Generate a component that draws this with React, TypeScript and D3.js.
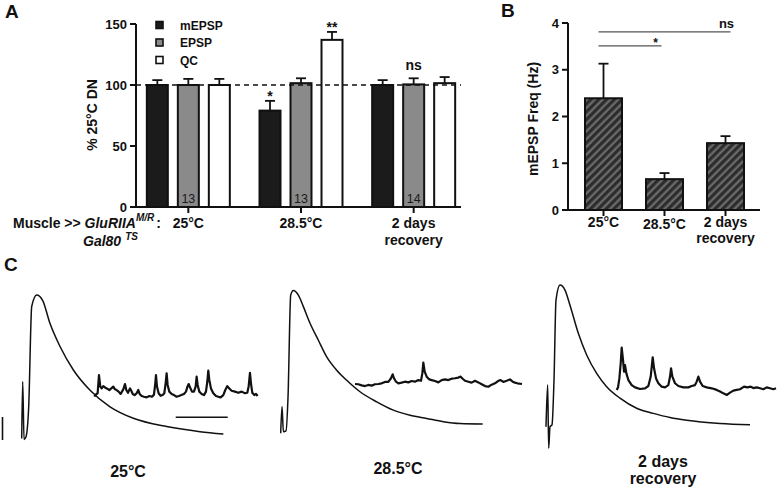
import React from "react";
import * as d3 from "d3";

// ---------- Panel A data ----------
const groups = ["25°C", "28.5°C", "2 days recovery"];
const groupLabelLines = [["25°C"], ["28.5°C"], ["2 days", "recovery"]];
const seriesNames = ["mEPSP", "EPSP", "QC"];
const mEPSPValues = [100, 79, 100];
const mEPSPErrors = [4, 8, 4];
const EPSPValues = [100, 101.5, 100.5];
const EPSPErrors = [5, 4, 5];
const QCValues = [100, 137, 101.5];
const QCErrors = [5, 6.5, 5];
const nLabels = ["13", "13", "14"];
const sigA = [
  { group: "28.5°C", series: "mEPSP", label: "*" },
  { group: "28.5°C", series: "QC", label: "**" },
  { group: "2 days recovery", series: "EPSP", label: "ns" },
];
const yTicksA = [0, 50, 100, 150];

// ---------- Panel B data ----------
const freqValues = [2.39, 0.66, 1.43];
const freqErrors = [0.74, 0.13, 0.15];
const yTicksB = [0, 1, 2, 3, 4];
const sigB = [
  { from: "25°C", to: "2 days recovery", y: 3.81, label: "ns" },
  { from: "25°C", to: "28.5°C", y: 3.51, label: "*" },
];

// ---------- Panel C data: [time (ms), voltage (mV)] ----------
const epsp25 = [
  [0, -0.4], [3, 12.0], [7, -0.6], [13, 0], [21, 6.5], [30, 28.3], [45, 30.8], [63, 29.6],
  [85, 24.6], [115, 19.6], [155, 14.5], [205, 10.1], [265, 6.5], [335, 4.0], [435, 2.2],
  [535, 1.1], [605, 0.6],
];
const epsp285 = [
  [0, -0.1], [4, 5.7], [8, 0.2], [16, 0.4], [22, 7.8], [30, 29.9], [38, 30.9], [53, 29.9],
  [68, 27.4], [88, 23.8], [113, 20.1], [138, 16.5], [168, 13.6], [198, 11.4], [238, 8.9],
  [288, 6.7], [338, 4.9], [388, 3.8], [438, 3.1], [488, 2.4], [538, 2.0], [606, 1.9],
];
const epspRec = [
  [0, 0], [5, 9.1], [8, -4.7], [12, 0], [18, 0.4], [24, 10.1], [30, 27.5], [42, 30.8],
  [57, 29.7], [72, 26.4], [97, 20.3], [122, 15.6], [152, 11.6], [182, 8.7], [222, 6.2],
  [272, 4.0], [322, 2.9], [372, 2.0], [422, 1.4], [522, 0.7], [612, 0.4],
];
const mini25 = [
  [0, -0.03], [5, 0.07], [10, 0.12], [14, 0.91], [18, 0.41], [22, 0.33], [27, 0.43], [33, 0.36],
  [39, 0.32], [45, 0.26], [51, 0.33], [57, 0.41], [62, 0.29], [67, 0.26], [73, 0.19], [79, 0.09],
  [83, 0.19], [87, 0.29], [92, 0.52], [96, 0.26], [101, 0.14], [107, 0.33], [111, 0.23], [115, 0.09],
  [121, 0.04], [127, 0.12], [132, 0.26], [136, 0.09], [142, 0], [149, -0.03], [157, -0.06], [165, 0],
  [173, -0.03], [179, 0.06], [183, 0.55], [185, 0.91], [188, 0.41], [193, 0.12], [199, 0.01],
  [205, 0.04], [210, 0.12], [214, 0.55], [217, 0.99], [220, 0.48], [225, 0.19], [232, 0.09],
  [239, 0.04], [247, -0.03], [254, 0], [261, 0.04], [269, 0.09], [275, 0.19], [280, 0.43],
  [283, 0.52], [287, 0.38], [293, 0.19], [299, 0.19], [304, 0.41], [307, 0.84], [310, 0.48],
  [315, 0.19], [322, 0.09], [329, 0.04], [335, 0.19], [339, 0.62], [342, 1.1], [345, 0.7],
  [350, 0.33], [357, 0.12], [365, 0], [372, -0.03], [379, -0.06], [387, 0.04], [393, 0.26],
  [399, 0.43], [405, 0.33], [412, 0.23], [422, 0.19], [432, 0.14], [442, 0.19], [452, 0.12],
  [459, 0.14], [463, 0.41], [467, 1.01], [470, 0.55], [474, 0.14], [480, 0.04], [485, 0.09], [490, 0],
];
const mini285 = [
  [0, 0], [10, -0.01], [20, -0.06], [30, -0.09], [40, -0.04], [50, -0.07], [60, -0.01], [70, 0],
  [80, 0.03], [90, 0.09], [100, 0.09], [108, 0.25], [113, 0.42], [117, 0.25], [123, 0.1], [130, 0.03],
  [140, 0.06], [150, 0.1], [160, 0.07], [170, 0.13], [180, 0.1], [190, 0.17], [198, 0.14], [202, 0.46],
  [205, 0.93], [209, 0.54], [215, 0.32], [223, 0.2], [230, 0.17], [240, 0.13], [250, 0.07], [260, 0.17],
  [270, 0.2], [280, 0.17], [290, 0.23], [300, 0.25], [310, 0.28], [317, 0.32], [323, 0.23], [330, 0.14],
  [340, 0.1], [350, 0.06], [360, 0.14], [370, 0.07], [380, -0.01], [390, -0.09], [400, -0.12],
  [410, -0.03], [420, 0.03], [430, 0.14], [437, 0.17], [445, 0.09], [455, 0.14], [465, 0.2],
  [473, 0.1], [480, 0.06], [487, 0.03], [501, 0],
];
const miniRec = [
  [0, -0.07], [4, 0.04], [8, 0.43], [12, 1.09], [15, 1.77], [19, 1.23], [22, 0.72], [25, 1.01],
  [29, 0.65], [35, 0.36], [45, 0.14], [55, 0.04], [70, -0.03], [85, 0], [95, 0.1], [102, 0.51],
  [108, 1.35], [112, 0.87], [118, 0.43], [125, 0.22], [135, 0.07], [145, 0.04], [155, 0.14],
  [160, 0.51], [163, 0.87], [167, 0.51], [175, 0.22], [185, 0.1], [200, 0.04], [215, 0.04],
  [225, 0.1], [235, 0.14], [240, 0.29], [245, 0.51], [250, 0.29], [258, 0.1], [270, 0.04], [285, 0],
  [300, -0.07], [310, -0.14], [320, -0.22], [330, -0.29], [340, -0.19], [350, -0.1], [360, -0.07],
  [370, -0.04], [382, 0.07], [392, 0.04], [402, 0.07], [410, 0.01], [420, 0.04], [430, 0], [440, -0.04],
  [450, 0.04], [460, 0], [470, -0.04], [478, 0],
];
const traceLabels = [["25°C"], ["28.5°C"], ["2 days", "recovery"]];
const scaleBarMs = 156;
const scaleBarMv = 1;

const FONT = "'Liberation Sans', Arial, Helvetica, sans-serif";
const INK = "#111";

export default function App() {
  // ---- Panel A scales
  const yA = d3.scaleLinear().domain([0, 150]).range([207, 24]);
  const xA = d3.scaleBand<string>().domain(groups).range([132, 470]);
  const xInner = d3.scalePoint<string>().domain(seriesNames).range([-46.5, 46.5]).padding(0.5);
  const barW = 21;
  const valuesBySeries: Record<string, number[]> = { mEPSP: mEPSPValues, EPSP: EPSPValues, QC: QCValues };
  const errorsBySeries: Record<string, number[]> = { mEPSP: mEPSPErrors, EPSP: EPSPErrors, QC: QCErrors };
  const fillBySeries: Record<string, string> = { mEPSP: "#1b1b1b", EPSP: "#8a8a8a", QC: "#ffffff" };
  const cx = (g: string, s: string) => (xA(g) as number) + xA.bandwidth() / 2 + (xInner(s) as number);

  // ---- Panel B scales
  const yB = d3.scaleLinear().domain([0, 4]).range([210, 23]);
  const xB = d3.scaleBand<string>().domain(groups).range([573, 756]);
  const barWB = 37;
  const cxB = (g: string) => (xB(g) as number) + xB.bandwidth() / 2;

  // ---- Panel C layouts
  const traces = [
    { epsp: epsp25, mini: mini25, x0: 21.7, y0: 436.7, mx0: 94.3, my0: 396, lx: 128, ly: 477 },
    { epsp: epsp285, mini: mini285, x0: 280.7, y0: 432.7, mx0: 355, my0: 384, lx: 398, ly: 474 },
    { epsp: epspRec, mini: miniRec, x0: 546, y0: 426.7, mx0: 616.7, my0: 388.3, lx: 663, ly: 467 },
  ];

  return (
    <div style={{ position: "absolute", left: 0, top: 0 }}>
      <svg width={777} height={491} style={{ display: "block", background: "#fff" }} fontFamily={FONT}>
        <defs>
          <pattern id="hatch" patternUnits="userSpaceOnUse" width={5.5} height={5.5} patternTransform="rotate(45)">
            <rect width={5.5} height={5.5} fill="#2c2c2c" />
            <line x1={1.5} y1={0} x2={1.5} y2={5.5} stroke="#6e6e6e" strokeWidth={2.2} />
          </pattern>
        </defs>

        {/* Panel letters */}
        <text x={5} y={18} fontSize={19} fontWeight="bold" fill={INK}>A</text>
        <text x={501} y={17} fontSize={19} fontWeight="bold" fill={INK}>B</text>
        <text x={4} y={271} fontSize={19} fontWeight="bold" fill={INK}>C</text>

        {/* ===== Panel A ===== */}
        <g>
          {/* bars */}
          {groups.map((g, gi) =>
            seriesNames.map((s) => {
              const v = valuesBySeries[s][gi];
              const e = errorsBySeries[s][gi];
              const c = cx(g, s);
              return (
                <g key={g + s}>
                  <line x1={c} x2={c} y1={yA(v)} y2={yA(v + e)} stroke={INK} strokeWidth={1.8} />
                  <line x1={c - 5} x2={c + 5} y1={yA(v + e)} y2={yA(v + e)} stroke={INK} strokeWidth={1.8} />
                  <rect x={c - barW / 2} y={yA(v)} width={barW} height={yA(0) - yA(v)}
                    fill={fillBySeries[s]} stroke={INK} strokeWidth={2} />
                </g>
              );
            })
          )}
          {/* n labels */}
          {groups.map((g, gi) => (
            <text key={"n" + g} x={cx(g, "EPSP")} y={203} fontSize={12.5} textAnchor="middle" fill="#1a1a1a">{nLabels[gi]}</text>
          ))}
          {/* dashed 100% line */}
          <line x1={136} x2={461} y1={yA(100)} y2={yA(100)} stroke={INK} strokeWidth={1.5} strokeDasharray="5,4" />
          {/* significance */}
          {sigA.map((a) => {
            const gi = groups.indexOf(a.group);
            const v = valuesBySeries[a.series][gi] + errorsBySeries[a.series][gi];
            return (
              <text key={a.group + a.series} x={cx(a.group, a.series)} y={yA(v) - (a.label === "ns" ? 8 : 0)}
                fontSize={14} fontWeight="bold" textAnchor="middle" fill={INK}>{a.label}</text>
            );
          })}
          {/* axes */}
          <line x1={136} x2={136} y1={yA(0)} y2={yA(150)} stroke={INK} strokeWidth={2} />
          <line x1={135} x2={461} y1={yA(0)} y2={yA(0)} stroke={INK} strokeWidth={2} />
          {yTicksA.map((t) => (
            <g key={"ta" + t}>
              <line x1={130} x2={136} y1={yA(t)} y2={yA(t)} stroke={INK} strokeWidth={2} />
              <text x={127} y={yA(t) + 4.5} fontSize={13} fontWeight="bold" textAnchor="end" fill={INK}>{t}</text>
            </g>
          ))}
          {groups.map((g, gi) => {
            const c = (xA(g) as number) + xA.bandwidth() / 2;
            return (
              <g key={"xa" + g}>
                <line x1={c} x2={c} y1={yA(0)} y2={yA(0) + 6} stroke={INK} strokeWidth={2} />
                {groupLabelLines[gi].map((ln, li) => (
                  <text key={ln} x={c} y={228 + li * 17} fontSize={14} fontWeight="bold" textAnchor="middle" fill={INK}>{ln}</text>
                ))}
              </g>
            );
          })}
          <text transform="translate(97,115) rotate(-90)" fontSize={14} fontWeight="bold" textAnchor="middle" fill={INK}>% 25°C DN</text>
          {/* genotype label */}
          <text x={13} y={228} fontSize={14} fontWeight="bold" fill={INK}>
            Muscle &gt;&gt; <tspan fontStyle="italic">GluRIIA</tspan>
            <tspan fontStyle="italic" fontSize={10} dy={-7}>M/R</tspan>
            <tspan dx={2} dy={7}>:</tspan>
          </text>
          <text x={83} y={246} fontSize={14} fontWeight="bold" fontStyle="italic" fill={INK}>
            Gal80<tspan fontSize={10} dx={4} dy={-6}>TS</tspan>
          </text>
          {/* legend */}
          {seriesNames.map((s, i) => (
            <g key={"lg" + s}>
              <rect x={156} y={21.5 + i * 17.5} width={7} height={7} fill={fillBySeries[s]} stroke={INK} strokeWidth={1.6} />
              <text x={180} y={29.5 + i * 17.5} fontSize={12} fontWeight="bold" fill={INK}>{s}</text>
            </g>
          ))}
        </g>

        {/* ===== Panel B ===== */}
        <g>
          {groups.map((g, gi) => {
            const c = cxB(g);
            const v = freqValues[gi];
            const e = freqErrors[gi];
            return (
              <g key={"b" + g}>
                <line x1={c} x2={c} y1={yB(v)} y2={yB(v + e)} stroke={INK} strokeWidth={1.8} />
                <line x1={c - 5} x2={c + 5} y1={yB(v + e)} y2={yB(v + e)} stroke={INK} strokeWidth={1.8} />
                <rect x={c - barWB / 2} y={yB(v)} width={barWB} height={yB(0) - yB(v)} fill="url(#hatch)" stroke={INK} strokeWidth={2} />
              </g>
            );
          })}
          {sigB.map((s) => {
            const x1 = cxB(s.from) - 5;
            const x2 = s.label === "ns" ? cxB(s.to) + 5 : cxB(s.to) - 3;
            return (
              <g key={"sb" + s.label}>
                <line x1={x1} x2={x2} y1={yB(s.y)} y2={yB(s.y)} stroke="#555" strokeWidth={1.3} />
                <text x={x2 - (s.label === "ns" ? 4 : 6)} y={yB(s.y) - (s.label === "ns" ? 4 : -1)} fontSize={s.label === "ns" ? 13 : 12}
                  fontWeight="bold" textAnchor="middle" fill={INK}>{s.label}</text>
              </g>
            );
          })}
          <line x1={568} x2={568} y1={yB(0)} y2={yB(4)} stroke={INK} strokeWidth={2} />
          <line x1={567} x2={760} y1={yB(0)} y2={yB(0)} stroke={INK} strokeWidth={2} />
          {yTicksB.map((t) => (
            <g key={"tb" + t}>
              <line x1={562} x2={568} y1={yB(t)} y2={yB(t)} stroke={INK} strokeWidth={2} />
              <text x={559} y={yB(t) + 4.5} fontSize={13} fontWeight="bold" textAnchor="end" fill={INK}>{t}</text>
            </g>
          ))}
          {groups.map((g, gi) => {
            const c = cxB(g);
            return (
              <g key={"xb" + g}>
                <line x1={c} x2={c} y1={yB(0)} y2={yB(0) + 6} stroke={INK} strokeWidth={2} />
                {groupLabelLines[gi].map((ln, li) => (
                  <text key={ln} x={c} y={(gi === 1 ? 229 : 227) + li * 16} fontSize={14} fontWeight="bold" textAnchor="middle" fill={INK}>{ln}</text>
                ))}
              </g>
            );
          })}
          <text transform="translate(538,119) rotate(-90)" fontSize={14} fontWeight="bold" textAnchor="middle" fill={INK}>mEPSP Freq (Hz)</text>
        </g>

        {/* ===== Panel C ===== */}
        <g>
          {traces.map((tr, i) => {
            const xs = d3.scaleLinear().domain([0, 3]).range([tr.x0, tr.x0 + 1]);
            const ys = d3.scaleLinear().domain([0, 1]).range([tr.y0, tr.y0 - 4.6]);
            const mxs = d3.scaleLinear().domain([0, 3]).range([tr.mx0, tr.mx0 + 1]);
            const mys = d3.scaleLinear().domain([0, 1]).range([tr.my0, tr.my0 - 23]);
            const epspLine = d3.line<number[]>().x((d) => xs(d[0])).y((d) => ys(d[1])).curve(d3.curveMonotoneX);
            const miniLine = d3.line<number[]>().x((d) => mxs(d[0])).y((d) => mys(d[1]));
            return (
              <g key={"tr" + i}>
                <path d={epspLine(tr.epsp) || ""} fill="none" stroke={INK} strokeWidth={1.5} />
                <path d={miniLine(tr.mini) || ""} fill="none" stroke={INK} strokeWidth={2.2} strokeLinejoin="round" />
                {traceLabels[i].map((ln, li) => (
                  <text key={ln} x={tr.lx} y={tr.ly + li * 17} fontSize={16} fontWeight="bold" textAnchor="middle" fill={INK}>{ln}</text>
                ))}
              </g>
            );
          })}
          {(() => {
            const mxs = d3.scaleLinear().domain([0, 3]).range([175.7, 176.7]);
            const mys = d3.scaleLinear().domain([0, 1]).range([440, 417]);
            return (
              <g>
                <line x1={mxs(0)} x2={mxs(scaleBarMs)} y1={417.3} y2={417.3} stroke={INK} strokeWidth={1.6} />
                <line x1={2.5} x2={2.5} y1={mys(0)} y2={mys(scaleBarMv)} stroke={INK} strokeWidth={1.6} />
              </g>
            );
          })()}
        </g>
      </svg>
    </div>
  );
}
